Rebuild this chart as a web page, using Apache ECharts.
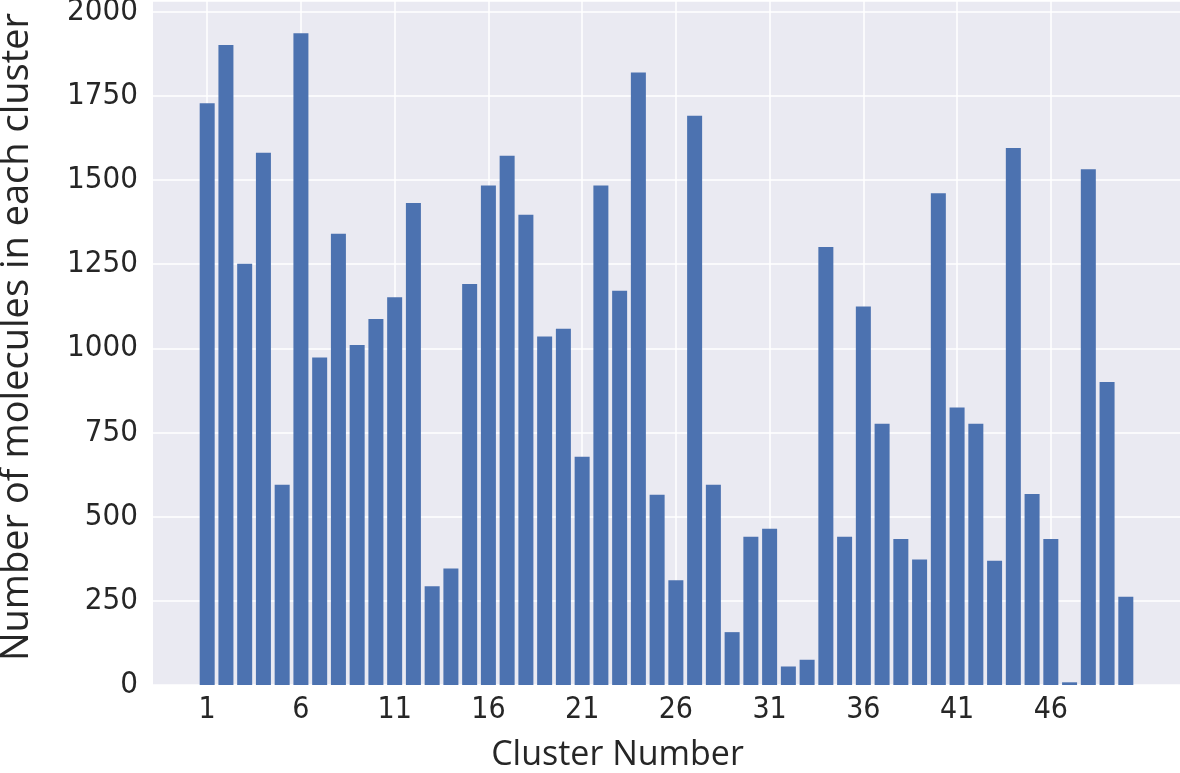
<!DOCTYPE html>
<html>
<head>
<meta charset="utf-8">
<title>Number of molecules in each cluster</title>
<script src="https://cdn.jsdelivr.net/npm/echarts@6/dist/echarts.min.js"></script>
<style>
  html, body { margin: 0; padding: 0; background: #ffffff; }
  #chart { width: 1180px; height: 773px; }
</style>
</head>
<body>
<div id="chart"></div>
<script>
// Cluster sizes (seaborn darkgrid look)
const clusters = [
  1, 2, 3, 4, 5, 6, 7, 8, 9, 10,
  11, 12, 13, 14, 15, 16, 17, 18, 19, 20,
  21, 22, 23, 24, 25, 26, 27, 28, 29, 30,
  31, 32, 33, 34, 35, 36, 37, 38, 39, 40,
  41, 42, 43, 44, 45, 46, 47, 48, 49, 50
];
const counts = [
  1728, 1901, 1251, 1581, 595, 1936, 973, 1340, 1010, 1087,
  1152, 1432, 293, 346, 1191, 1484, 1572, 1397, 1035, 1058,
  678, 1484, 1171, 1819, 565, 311, 1691, 595, 157, 440,
  464, 55, 75, 1301, 440, 1124, 776, 434, 373, 1461,
  824, 776, 369, 1595, 567, 434, 8, 1532, 900, 262
];
const xTicks = [1, 6, 11, 16, 21, 26, 31, 36, 41, 46];

const BAR_COLOR = '#4c72b0';
const PLOT_BG = '#eaeaf2';
const TEXT = '#262626';

const chart = echarts.init(document.getElementById('chart'));

// matplotlib-style limits: 5% margin around the bars, 5% headroom on top
const xMin = -1.89, xMax = 52.89;
const yMax = 2031.7;

chart.setOption({
  animation: false,
  grid: {
    left: 153, right: 0, top: 1, bottom: 88,
    outerBoundsMode: 'none',
    containLabel: false,
    show: true, backgroundColor: PLOT_BG, borderWidth: 0
  },
  xAxis: {
    type: 'value',
    min: xMin, max: xMax,
    name: 'Cluster Number',
    nameLocation: 'middle',
    nameGap: 53,
    nameTextStyle: {
      fontFamily: 'Open Sans', fontSize: 34, color: TEXT,
      padding: [0, 98, 0, 0]
    },
    axisLine: { show: false },
    axisTick: { show: false, customValues: xTicks },
    axisLabel: {
      customValues: xTicks,
      fontFamily: 'DejaVu Sans Condensed', fontSize: 30, color: TEXT, margin: 10
    },
    splitLine: { show: true, lineStyle: { color: '#ffffff', width: 1.5 } }
  },
  yAxis: {
    type: 'value',
    min: 0, max: yMax, interval: 250,
    name: 'Number of molecules in each cluster',
    nameLocation: 'middle',
    nameGap: 117,
    nameTextStyle: { fontFamily: 'Open Sans', fontSize: 38, color: TEXT, padding: [0, 0, 0, 12] },
    axisLine: { show: false },
    axisTick: { show: false },
    axisLabel: {
      showMaxLabel: false,
      fontFamily: 'DejaVu Sans Condensed', fontSize: 31, color: TEXT, margin: 15,
      formatter: (v) => (v % 250 === 0 ? String(v) : '')
    },
    splitLine: { show: true, lineStyle: { color: '#ffffff', width: 1.5 } }
  },
  series: [{
    type: 'bar',
    data: clusters.map((c, i) => [c, counts[i]]),
    barWidth: 15,
    itemStyle: { color: BAR_COLOR },
    emphasis: { disabled: true }
  }]
});
</script>
</body>
</html>
